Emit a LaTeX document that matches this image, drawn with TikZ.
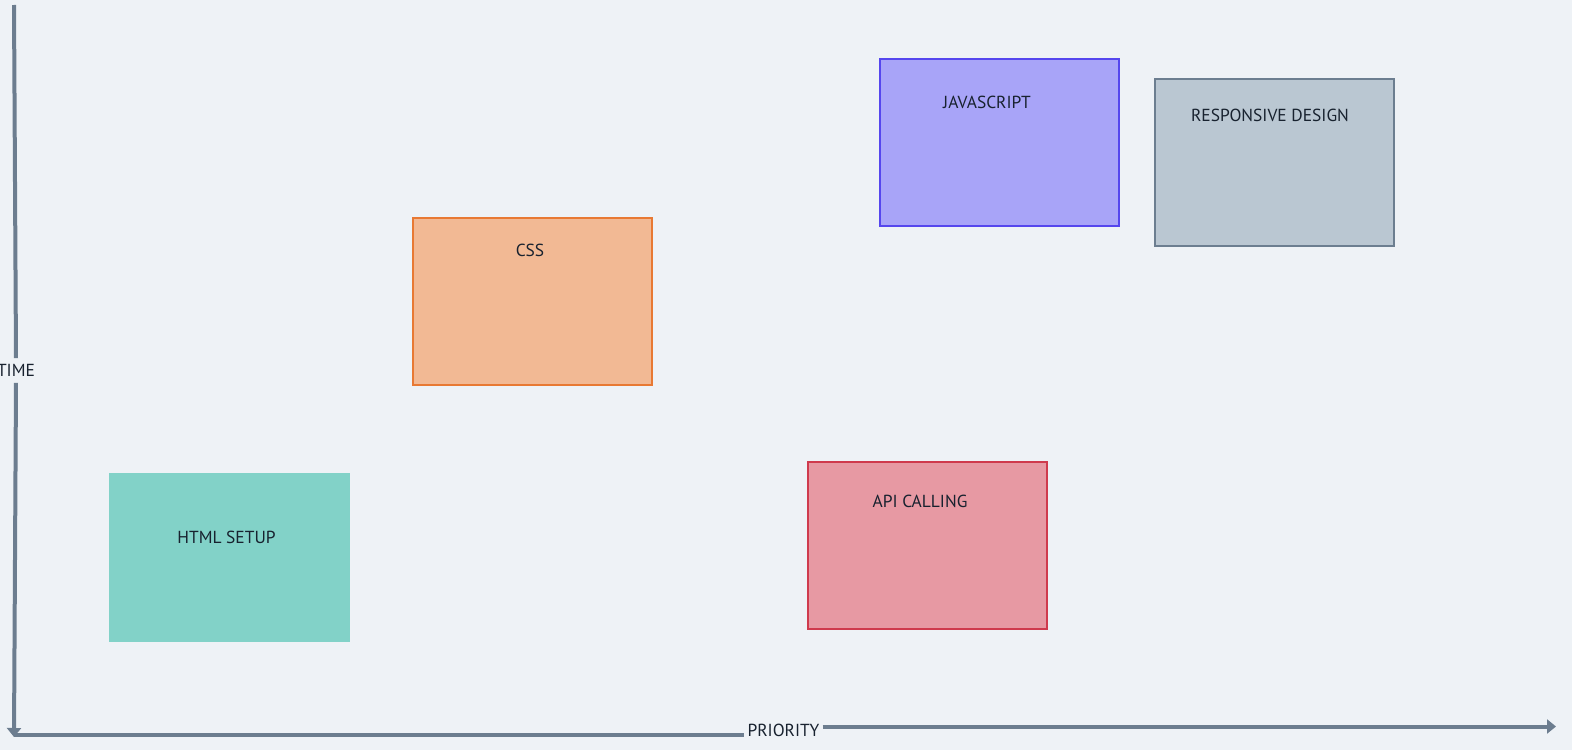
\documentclass[tikz,border=0pt]{standalone}
\usepackage{fontspec}
\setmainfont{PT Sans}
\usetikzlibrary{positioning}
\usetikzlibrary{arrows.meta}
\definecolor{canvas}{HTML}{EEF2F6}
\definecolor{axisgray}{HTML}{6C7D8F}
\definecolor{ink}{HTML}{18222F}
\definecolor{htmlfill}{HTML}{82D2C8}
\definecolor{cssfill}{HTML}{F2B994}
\definecolor{cssline}{HTML}{E87933}
\definecolor{jsfill}{HTML}{A8A4F8}
\definecolor{jsline}{HTML}{5546EE}
\definecolor{rdfill}{HTML}{BAC7D2}
\definecolor{rdline}{HTML}{6C7E90}
\definecolor{apifill}{HTML}{E799A3}
\definecolor{apiline}{HTML}{CF3A4D}

\begin{document}
\begin{tikzpicture}[x=1bp,y=-1bp,
	task/.style={draw,line width=2bp,minimum width=239bp,minimum height=167bp,inner sep=0pt},
	tasktext/.style={text=ink,font=\fontsize{17.5}{21}\selectfont,inner sep=3bp},
	axis/.style={draw=axisgray,line width=4bp}]
	\fill[canvas] (0,0) rectangle (1572,750);
	\useasboundingbox (0,0) rectangle (1572,750);

	% boxes
	\foreach \n/\cx/\cy/\fc/\dc/\dx/\dy/\t in {html/229.5/557/htmlfill/htmlfill/-3/-20/HTML SETUP,
		css/532.5/301.5/cssfill/cssline/-2.5/-51.5/CSS,
		js/999.5/142.5/jsfill/jsline/-12.5/-40.5/JAVASCRIPT,
		rd/1274.5/162.5/rdfill/rdline/-4.5/-47.5/RESPONSIVE DESIGN,
		api/927.5/545.5/apifill/apiline/-7.5/-44.5/API CALLING}
	{
		\node[task,fill=\fc,draw=\dc] (\n) at (\cx,\cy) {};
		\draw (\n) ++ (\dx,\dy) node[tasktext] (\n text) {\t};
	}

	% axes
	\coordinate (ytop) at (14,5);
	\coordinate (origin) at (14,735);
	\coordinate (xend) at (1556,726.5);
	\node[tasktext,inner ysep=6bp] (timelabel) at (16,370.5) {TIME};
	\node[tasktext] (prioritylabel) at (783.5,730) {PRIORITY};

	\draw[axis] (ytop) -- (timelabel.north);
	\draw[axis,-{Triangle[width=14bp,length=9bp]}] (timelabel.south) -- ([yshift=-2bp]origin);
	\draw[axis] (origin) -- (prioritylabel.west |- origin);
	\draw[axis,-{Triangle[width=14bp,length=9bp]}] (prioritylabel.east |- xend) -- (xend);
\end{tikzpicture}
\end{document}
